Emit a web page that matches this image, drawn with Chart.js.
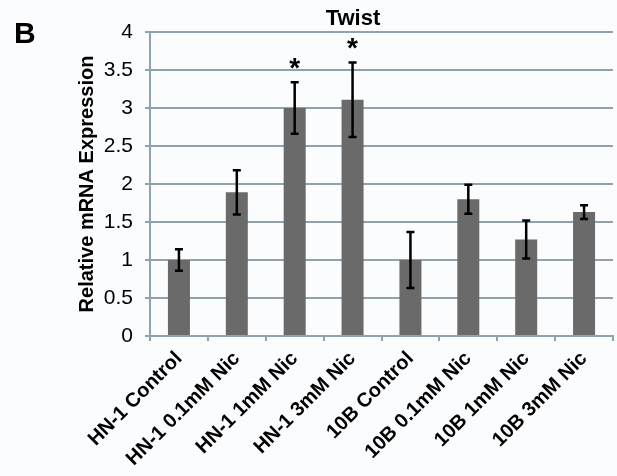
<!DOCTYPE html>
<html>
<head>
<meta charset="utf-8">
<script src="https://cdn.jsdelivr.net/npm/chart.js@4/dist/chart.umd.min.js"></script>
<style>
  html, body { margin: 0; padding: 0; background: #fbfcfe; }
  #wrap { width: 617px; height: 476px; position: relative; }
</style>
</head>
<body>
<div id="wrap"><canvas id="c" width="617" height="476"></canvas></div>
<script>
const panelLabel = "B";
const chartTitle = "Twist";
const yAxisTitle = "Relative mRNA Expression";
const categories = ["HN-1 Control", "HN-1 0.1mM Nic", "HN-1 1mM Nic", "HN-1 3mM Nic",
                    "10B Control", "10B 0.1mM Nic", "10B 1mM Nic", "10B 3mM Nic"];
const values = [1.0, 1.89, 3.0, 3.11, 1.0, 1.8, 1.27, 1.63];
const errors = [0.14, 0.29, 0.34, 0.49, 0.37, 0.19, 0.25, 0.09];
const significant = [false, false, true, true, false, false, false, false];
const yTicks = [0, 0.5, 1, 1.5, 2, 2.5, 3, 3.5, 4];

const GRID = '#8ea3ab';
const FONT = "'Liberation Sans', Arial, Helvetica, sans-serif";

const overlay = {
  id: 'overlay',
  afterDatasetsDraw(chart) {
    const ctx = chart.ctx;
    const y = chart.scales.y;
    const meta = chart.getDatasetMeta(0);
    ctx.save();
    ctx.strokeStyle = '#000';
    ctx.lineWidth = 2.5;
    meta.data.forEach((bar, i) => {
      const x = bar.x;
      const top = y.getPixelForValue(values[i] + errors[i]);
      const bot = y.getPixelForValue(values[i] - errors[i]);
      ctx.beginPath();
      ctx.moveTo(x, top); ctx.lineTo(x, bot);
      ctx.moveTo(x - 4, top); ctx.lineTo(x + 4, top);
      ctx.moveTo(x - 4, bot); ctx.lineTo(x + 4, bot);
      ctx.stroke();
      if (significant[i]) {
        ctx.fillStyle = '#000';
        ctx.font = "bold 28px " + FONT;
        ctx.textAlign = 'center';
        ctx.textBaseline = 'middle';
        ctx.fillText('*', x, top - 13);
      }
    });
    ctx.fillStyle = '#000';
    ctx.textBaseline = 'alphabetic';
    ctx.textAlign = 'left';
    ctx.font = "bold 30px " + FONT;
    ctx.fillText(panelLabel, 14, 43);
    ctx.font = "bold 22px " + FONT;
    ctx.textAlign = 'center';
    ctx.fillText(chartTitle, 353, 25);
    ctx.restore();
  }
};

new Chart(document.getElementById('c'), {
  type: 'bar',
  data: {
    labels: categories,
    datasets: [{
      data: values,
      backgroundColor: '#6a6a6a',
      borderWidth: 0,
      categoryPercentage: 1.0,
      barPercentage: 0.38
    }]
  },
  options: {
    responsive: false,
    animation: false,
    devicePixelRatio: 1,
    layout: { padding: { top: 32, right: 4, left: 0, bottom: 0 } },
    plugins: { legend: { display: false }, tooltip: { enabled: false }, title: { display: false } },
    scales: {
      x: {
        grid: { display: true, drawOnChartArea: false, drawTicks: true, tickLength: 5, color: GRID, lineWidth: 2, offset: true },
        border: { display: true, color: GRID, width: 2 },
        ticks: {
          color: '#000',
          font: { family: FONT, size: 20, weight: 'bold' },
          minRotation: 45, maxRotation: 45, padding: 6, autoSkip: false
        },
        afterFit(scale) { scale.height = 140; }
      },
      y: {
        min: 0, max: 4,
        afterBuildTicks(scale) { scale.ticks = yTicks.map(v => ({ value: v })); },
        grid: { color: GRID, lineWidth: 2, tickLength: 5 },
        border: { display: true, color: GRID, width: 2 },
        ticks: {
          color: '#000',
          font: { family: FONT, size: 21 },
          padding: 12,
          callback: (v) => String(v)
        },
        title: {
          display: true,
          text: yAxisTitle,
          color: '#000',
          font: { family: FONT, size: 20, weight: 'bold' },
          padding: { top: 75, bottom: 0 }
        },
        afterFit(scale) { scale.width = 150; }
      }
    }
  },
  plugins: [overlay]
});
</script>
</body>
</html>
